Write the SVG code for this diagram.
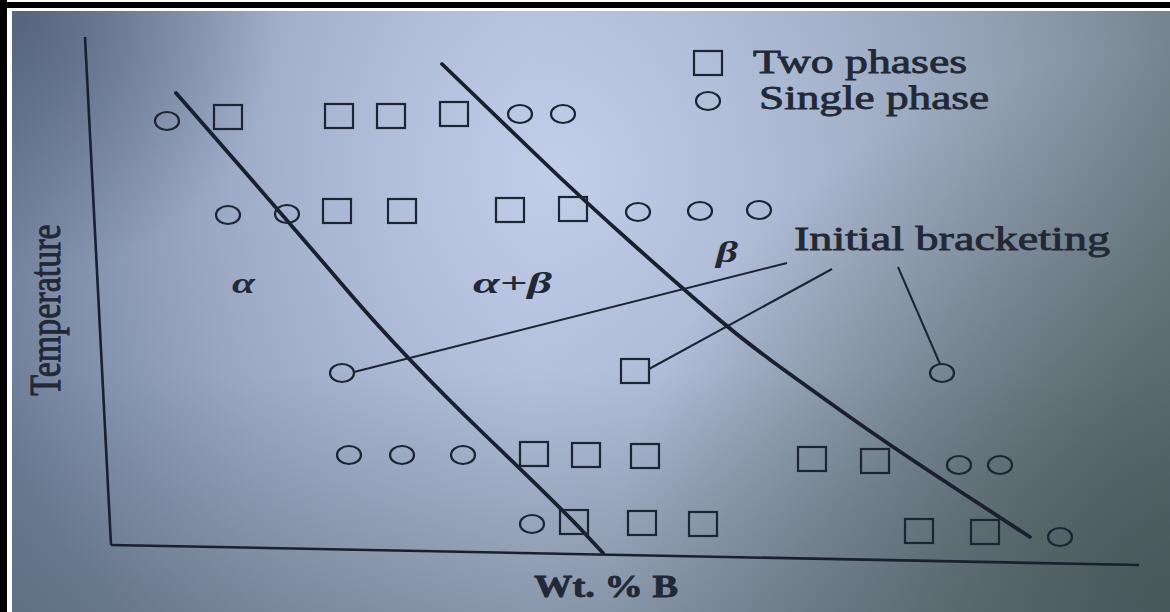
<svg xmlns="http://www.w3.org/2000/svg" width="1170" height="612" viewBox="0 0 1170 612">
<defs>
<linearGradient id="bgL" x1="0" y1="0" x2="1" y2="0">
<stop offset="0" stop-color="#6c7c96"/>
<stop offset="0.45" stop-color="#a9b6d2"/>
<stop offset="1" stop-color="#75858f"/>
</linearGradient>
<linearGradient id="bot" x1="0" y1="0" x2="0" y2="1">
<stop offset="0.6" stop-color="#4a5a60" stop-opacity="0"/>
<stop offset="1" stop-color="#4a5a60" stop-opacity="0.35"/>
</linearGradient>
<radialGradient id="hl" cx="560" cy="170" r="620" gradientUnits="userSpaceOnUse">
<stop offset="0" stop-color="#c4cfea" stop-opacity="0.95"/>
<stop offset="0.55" stop-color="#b3c0dc" stop-opacity="0.5"/>
<stop offset="1" stop-color="#b3c0dc" stop-opacity="0"/>
</radialGradient>
<radialGradient id="dk" cx="1170" cy="612" r="560" gradientUnits="userSpaceOnUse">
<stop offset="0" stop-color="#3e4e4b" stop-opacity="0.85"/>
<stop offset="1" stop-color="#3e4e4b" stop-opacity="0"/>
</radialGradient>
<radialGradient id="dk2" cx="20" cy="20" r="260" gradientUnits="userSpaceOnUse">
<stop offset="0" stop-color="#4a5870" stop-opacity="0.7"/>
<stop offset="1" stop-color="#4a5870" stop-opacity="0"/>
</radialGradient>
<rect id="sq" x="-14" y="-12" width="28" height="24"/>
<ellipse id="ci" rx="12" ry="9"/>
</defs>
<style>
.ink{fill:none;stroke:#1d2433;stroke-width:2.2}
.bound{fill:none;stroke:#1a2030;stroke-width:3.8;stroke-linecap:round;stroke-linejoin:round}
.axis{fill:none;stroke:#1a2030;stroke-width:2.6}
.lead{fill:none;stroke:#1d2433;stroke-width:2}
.t{font-family:"Liberation Serif","Times New Roman",serif;fill:#222836;stroke:#222836;stroke-width:0.8}
.g{font-family:"Liberation Serif","Times New Roman",serif;font-style:italic;font-weight:bold;fill:#222836}
</style>
<rect x="0" y="0" width="1170" height="612" fill="#ffffff"/>
<g id="photo">
<rect x="12" y="11" width="1158" height="601" fill="url(#bgL)"/>
<rect x="12" y="11" width="1158" height="601" fill="url(#hl)"/>
<rect x="12" y="11" width="1158" height="601" fill="url(#dk)"/>
<rect x="12" y="11" width="1158" height="601" fill="url(#dk2)"/>
<rect x="12" y="11" width="1158" height="601" fill="url(#bot)"/>
</g>
<g id="frame">
<rect x="0" y="0" width="7" height="612" fill="#000"/>
<rect x="0" y="2" width="1170" height="6" fill="#000"/>
</g>
<g id="axes">
<line class="axis" x1="85" y1="37" x2="111" y2="545"/>
<line class="axis" x1="111" y1="545" x2="1139" y2="565"/>
</g>
<g id="boundaries">
<path id="alpha-boundary" class="bound" d="M176,93 L231.5,156.5 Q287,220 346,289 Q405,358 484,434 Q563,510 583,531.5 L603,553"/>
<path id="beta-boundary" class="bound" d="M442,64 L469.5,90.5 Q497,117 538.5,157 Q580,197 631,242.5 Q682,288 712.5,314 Q743,340 772.5,361.5 Q802,383 847,415 Q892,447 961,492 L1030,537"/>
</g>
<g id="connectors">
<line class="lead" x1="354" y1="372" x2="787" y2="263"/>
<line class="lead" x1="649" y1="369" x2="832" y2="269"/>
<line class="lead" x1="898" y1="267" x2="940" y2="364"/>
</g>
<g id="legend">
<use href="#sq" class="ink" x="708" y="63"/>
<use href="#ci" class="ink" x="708" y="101"/>
<text class="t" x="753" y="73" font-size="33" textLength="214" lengthAdjust="spacingAndGlyphs">Two phases</text>
<text class="t" x="759" y="109" font-size="33" textLength="230" lengthAdjust="spacingAndGlyphs">Single phase</text>
</g>
<g id="row1">
<use id="r1c1" href="#ci" class="ink" x="167" y="121"/>
<use id="r1s1" href="#sq" class="ink" x="228" y="117"/>
<use id="r1s2" href="#sq" class="ink" x="339" y="116"/>
<use id="r1s3" href="#sq" class="ink" x="391" y="116"/>
<use id="r1s4" href="#sq" class="ink" x="454" y="114"/>
<use id="r1c2" href="#ci" class="ink" x="520" y="114"/>
<use id="r1c3" href="#ci" class="ink" x="563" y="114"/>
</g>
<g id="row2">
<use id="r2c1" href="#ci" class="ink" x="228" y="215"/>
<use id="r2c2" href="#ci" class="ink" x="287" y="214"/>
<use id="r2s1" href="#sq" class="ink" x="337" y="211"/>
<use id="r2s2" href="#sq" class="ink" x="402" y="211"/>
<use id="r2s3" href="#sq" class="ink" x="510" y="210"/>
<use id="r2s4" href="#sq" class="ink" x="573" y="209"/>
<use id="r2c3" href="#ci" class="ink" x="638" y="212"/>
<use id="r2c4" href="#ci" class="ink" x="700" y="211"/>
<use id="r2c5" href="#ci" class="ink" x="759" y="210"/>
</g>
<g id="row3">
<use id="r3c1" href="#ci" class="ink" x="342" y="373"/>
<use id="r3s1" href="#sq" class="ink" x="635" y="371"/>
<use id="r3c2" href="#ci" class="ink" x="942" y="373"/>
</g>
<g id="row4">
<use id="r4c1" href="#ci" class="ink" x="349" y="455"/>
<use id="r4c2" href="#ci" class="ink" x="402" y="455"/>
<use id="r4c3" href="#ci" class="ink" x="463" y="455"/>
<use id="r4s1" href="#sq" class="ink" x="534" y="454"/>
<use id="r4s2" href="#sq" class="ink" x="586" y="455"/>
<use id="r4s3" href="#sq" class="ink" x="645" y="456"/>
<use id="r4s4" href="#sq" class="ink" x="812" y="459"/>
<use id="r4s5" href="#sq" class="ink" x="875" y="461"/>
<use id="r4c4" href="#ci" class="ink" x="959" y="465"/>
<use id="r4c5" href="#ci" class="ink" x="1000" y="465"/>
</g>
<g id="row5">
<use id="r5c1" href="#ci" class="ink" x="532" y="524"/>
<use id="r5s1" href="#sq" class="ink" x="574" y="522"/>
<use id="r5s2" href="#sq" class="ink" x="642" y="523"/>
<use id="r5s3" href="#sq" class="ink" x="703" y="524"/>
<use id="r5s4" href="#sq" class="ink" x="919" y="531"/>
<use id="r5s5" href="#sq" class="ink" x="985" y="532"/>
<use id="r5c2" href="#ci" class="ink" x="1060" y="537"/>
</g>
<g id="labels">
<text class="t" x="794" y="250" font-size="33" textLength="316" lengthAdjust="spacingAndGlyphs">Initial bracketing</text>
<text class="t" x="534" y="597" font-size="32" font-weight="bold" textLength="144" lengthAdjust="spacingAndGlyphs">Wt. % B</text>
<text class="t" font-size="34" text-anchor="middle" transform="translate(60,310) rotate(-90) scale(1,1.3)">Temperature</text>
<text class="g" x="232" y="293" font-size="30" textLength="23" lengthAdjust="spacingAndGlyphs">α</text>
<text class="g" x="473" y="293" font-size="30" textLength="79" lengthAdjust="spacingAndGlyphs">α+β</text>
<text class="g" x="716" y="262" font-size="30" textLength="22" lengthAdjust="spacingAndGlyphs">β</text>
</g>
</svg>
